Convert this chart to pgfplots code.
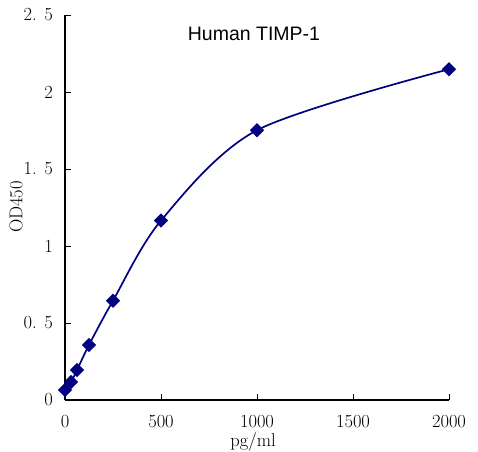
\documentclass[border=0pt]{standalone}
\usepackage{pgfplots}
\pgfplotsset{compat=1.18}
\usepackage{fontspec}
\newfontfamily\arialfont{Liberation Sans}
\definecolor{curve}{RGB}{0,0,128}

\begin{document}
\begin{tikzpicture}[x=1pt,y=1pt]
  \path[use as bounding box] (0,0) rectangle (478,451);
  \begin{axis}[
      at={(65pt,51pt)}, anchor=south west,
      scale only axis,
      width=384pt, height=385pt,
      xmin=0, xmax=2000,
      ymin=0, ymax=2.5,
      axis x line*=bottom,
      axis y line*=left,
      axis line style={line width=1.3pt},
      tick align=inside,
      major tick length=6pt,
      tick style={line width=1pt, black},
      xtick={0,500,1000,1500,2000},
      ytick={0,0.5,1,1.5,2,2.5},
      yticklabels={0, 0. 5, 1, 1. 5, 2, 2. 5},
      xticklabels={0, 500, 1000, 1500, 2000},
      ticklabel style={font=\fontsize{18.5}{22}\selectfont},
      yticklabel style={inner sep=0pt, anchor=east, xshift=-12pt},
      xticklabel style={inner sep=0pt, anchor=north, yshift=-15pt},
      clip=false,
    ]
    \addplot[curve, line width=1.7pt, smooth, tension=0.5,
      mark=square*, mark size=4.2pt, mark options={rotate=45, solid, fill=curve}]
      coordinates {
        (0, 0.065)
        (31.25, 0.117)
        (62.5, 0.195)
        (125, 0.357)
        (250, 0.645)
        (500, 1.165)
        (1000, 1.752)
        (2000, 2.148)
      };
  \end{axis}
  \node[font=\arialfont\fontsize{19.5}{23}\selectfont, inner sep=0pt, anchor=base] at (254, 451-41) {Human TIMP-1};
  \node[font=\fontsize{18.5}{22}\selectfont, inner sep=0pt, anchor=base] at (253, 451-446) {pg/ml};
  \node[font=\fontsize{18.5}{22}\selectfont, inner sep=0pt, rotate=90] at (16, 451-207) {OD450};
\end{tikzpicture}
\end{document}
